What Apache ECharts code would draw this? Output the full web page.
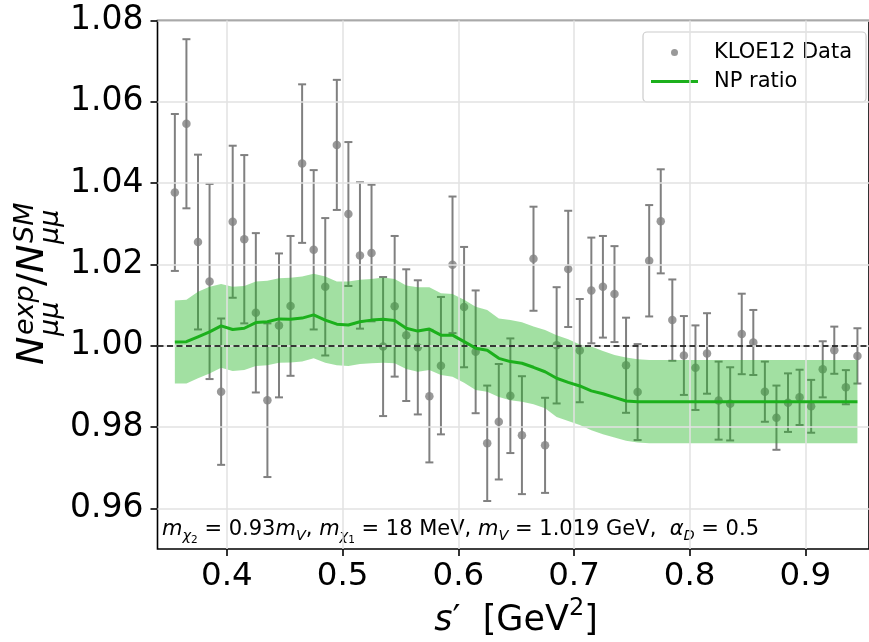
<!DOCTYPE html>
<html>
<head>
<meta charset="utf-8">
<script src="https://cdn.jsdelivr.net/npm/echarts@6/dist/echarts.min.js"></script>
<style>
  html, body { margin: 0; padding: 0; background: #fff; }
  #chart { width: 869px; height: 642px; }
</style>
</head>
<body>
<div id="chart"></div>
<script>
// ---- data ----
const X = [0.355, 0.365, 0.375, 0.385, 0.395, 0.405, 0.415, 0.425, 0.435, 0.445,
           0.455, 0.465, 0.475, 0.485, 0.495, 0.505, 0.515, 0.525, 0.535, 0.545,
           0.555, 0.565, 0.575, 0.585, 0.595, 0.605, 0.615, 0.625, 0.635, 0.645,
           0.655, 0.665, 0.675, 0.685, 0.695, 0.705, 0.715, 0.725, 0.735, 0.745,
           0.755, 0.765, 0.775, 0.785, 0.795, 0.805, 0.815, 0.825, 0.835, 0.845,
           0.855, 0.865, 0.875, 0.885, 0.895, 0.905, 0.915, 0.925, 0.935, 0.945];
const DATA_Y = [1.0377, 1.0546, 1.0255, 1.0158, 0.9887, 1.0305, 1.0262, 1.0081, 0.9866, 1.0050,
                1.0098, 1.0448, 1.0236, 1.0145, 1.0494, 1.0324, 1.0222, 1.0228, 0.9998, 1.0097,
                1.0026, 0.9996, 0.9876, 0.9951, 1.0199, 1.0095, 0.9985, 0.9760, 0.9813, 0.9877,
                0.9780, 1.0214, 0.9755, 1.0001, 1.0189, 0.9988, 1.0136, 1.0145, 1.0127, 0.9952,
                0.9886, 1.0209, 1.0306, 1.0063, 0.9976, 0.9946, 0.9981, 0.9865, 0.9857, 1.0029,
                1.0008, 0.9887, 0.9823, 0.9860, 0.9873, 0.9851, 0.9942, 0.9989, 0.9898, 0.9975];
const DATA_ERR = [0.0193, 0.0208, 0.0215, 0.0240, 0.0180, 0.0187, 0.0207, 0.0196, 0.0189, 0.0177,
                  0.0172, 0.0195, 0.0196, 0.0169, 0.0160, 0.0177, 0.0180, 0.0168, 0.0171, 0.0173,
                  0.0162, 0.0165, 0.0163, 0.0169, 0.0168, 0.0148, 0.0151, 0.0142, 0.0142, 0.0141,
                  0.0145, 0.0128, 0.0117, 0.0143, 0.0143, 0.0127, 0.0130, 0.0125, 0.0118, 0.0117,
                  0.0118, 0.0137, 0.0128, 0.0100, 0.0097, 0.0104, 0.0099, 0.0096, 0.0090, 0.0099,
                  0.0080, 0.0074, 0.0079, 0.0072, 0.0068, 0.0065, 0.0069, 0.0058, 0.0042, 0.0068];
const NP_RATIO = [1.0009, 1.0010, 1.0022, 1.0034, 1.0049, 1.0040, 1.0043, 1.0057, 1.0059, 1.0066,
                  1.0065, 1.0068, 1.0076, 1.0063, 1.0053, 1.0051, 1.0059, 1.0063, 1.0065, 1.0062,
                  1.0043, 1.0036, 1.0041, 1.0026, 1.0026, 1.0010, 0.9994, 0.9989, 0.9969, 0.9961,
                  0.9957, 0.9947, 0.9936, 0.9920, 0.9910, 0.9901, 0.9889, 0.9882, 0.9873, 0.9864,
                  0.9862, 0.9862, 0.9862, 0.9862, 0.9862, 0.9862, 0.9862, 0.9862, 0.9862, 0.9862,
                  0.9862, 0.9862, 0.9862, 0.9862, 0.9862, 0.9862, 0.9862, 0.9862, 0.9862, 0.9862];
const NP_UPPER = [1.0111, 1.0113, 1.0133, 1.0145, 1.0152, 1.0145, 1.0147, 1.0158, 1.0160, 1.0166,
                  1.0167, 1.0170, 1.0177, 1.0170, 1.0158, 1.0158, 1.0162, 1.0164, 1.0168, 1.0164,
                  1.0148, 1.0144, 1.0144, 1.0129, 1.0127, 1.0113, 1.0096, 1.0088, 1.0067, 1.0063,
                  1.0058, 1.0047, 1.0039, 1.0026, 1.0016, 1.0003, 0.9998, 0.9987, 0.9977, 0.9971,
                  0.9967, 0.9965, 0.9965, 0.9965, 0.9965, 0.9965, 0.9965, 0.9965, 0.9965, 0.9965,
                  0.9965, 0.9965, 0.9965, 0.9965, 0.9965, 0.9965, 0.9965, 0.9965, 0.9965, 0.9965];
const NP_LOWER = [0.9907, 0.9907, 0.9920, 0.9932, 0.9946, 0.9938, 0.9940, 0.9950, 0.9952, 0.9958,
                  0.9959, 0.9961, 0.9969, 0.9958, 0.9952, 0.9950, 0.9955, 0.9957, 0.9958, 0.9957,
                  0.9943, 0.9936, 0.9940, 0.9928, 0.9924, 0.9909, 0.9891, 0.9887, 0.9874, 0.9866,
                  0.9862, 0.9856, 0.9846, 0.9825, 0.9815, 0.9805, 0.9792, 0.9782, 0.9774, 0.9766,
                  0.9762, 0.9760, 0.9760, 0.9760, 0.9760, 0.9760, 0.9760, 0.9760, 0.9760, 0.9760,
                  0.9760, 0.9760, 0.9760, 0.9760, 0.9760, 0.9760, 0.9760, 0.9760, 0.9760, 0.9760];
const X_TICKS = [0.4, 0.5, 0.6, 0.7, 0.8, 0.9];
const Y_TICKS = [0.96, 0.98, 1.00, 1.02, 1.04, 1.06, 1.08];
const SM_REF = 0.998;

// ---- chart ----
const FONT = 'DejaVu Sans';
const chart = echarts.init(document.getElementById('chart'), null, { renderer: 'canvas' });

const pointData = X.map((x, i) => [x, DATA_Y[i], DATA_ERR[i]]);
const lineData = X.map((x, i) => [x, NP_RATIO[i]]);

const option = {
  animation: false,
  backgroundColor: '#fff',
  grid: {
    left: 157.5, top: 20.5, width: 715, height: 528.5,
    show: true, borderColor: '#000', borderWidth: 1.6, backgroundColor: 'transparent'
  },
  xAxis: {
    type: 'value', min: 0.34, max: 0.955,
    axisLine: { show: false },
    axisTick: { show: true, customValues: X_TICKS, length: 7, lineStyle: { color: '#000', width: 1.6 } },
    axisLabel: {
      customValues: X_TICKS, margin: 11, color: '#000', fontSize: 32.5, fontFamily: FONT,
      formatter: v => v.toFixed(1)
    },
    splitLine: { show: false }
  },
  yAxis: {
    type: 'value', min: 0.95, max: 1.08,
    axisLine: { show: false },
    axisTick: { show: true, customValues: Y_TICKS, length: 7, lineStyle: { color: '#000', width: 1.6 } },
    axisLabel: {
      customValues: Y_TICKS, margin: 14, color: '#000', fontSize: 33, fontFamily: FONT,
      formatter: v => v.toFixed(2)
    },
    splitLine: { show: false }
  },
  legend: {
    orient: 'vertical', left: 643, top: 32,
    data: [
      { name: 'KLOE12 Data', icon: 'circle' },
      { name: 'NP ratio', icon: 'path://M0,0h47v3h-47z' }
    ],
    itemWidth: 47, itemHeight: 7, itemGap: 8,
    padding: [10, 14, 10, 8],
    borderColor: '#cccccc', borderWidth: 1.2, borderRadius: 4,
    backgroundColor: 'rgba(255,255,255,0.85)',
    textStyle: { fontSize: 21, fontFamily: FONT, color: '#000', padding: [0, 0, 0, 11] }
  },
  series: [
    { // grid lines at tick values
      type: 'line', name: 'grid', data: [], z: 0, silent: true,
      markLine: {
        silent: true, symbol: ['none', 'none'], label: { show: false }, animation: false,
        lineStyle: { color: '#e2e2e2', width: 1.5, type: 'solid' },
        emphasis: { disabled: true },
        data: [...X_TICKS.map(v => ({ xAxis: v })), ...Y_TICKS.map(v => ({ yAxis: v }))]
      }
    },
    { // error bars
      type: 'custom', name: 'errbars', z: 2, silent: true,
      data: pointData, encode: { x: 0, y: 1 },
      renderItem: (params, api) => {
        const x = api.value(0), y = api.value(1), e = api.value(2);
        const top = api.coord([x, y + e]);
        const bot = api.coord([x, y - e]);
        const cw = 4;
        const style = { stroke: '#808080', lineWidth: 2 };
        return {
          type: 'group', children: [
            { type: 'line', shape: { x1: top[0], y1: top[1], x2: bot[0], y2: bot[1] }, style },
            { type: 'line', shape: { x1: top[0] - cw, y1: top[1], x2: top[0] + cw, y2: top[1] }, style },
            { type: 'line', shape: { x1: bot[0] - cw, y1: bot[1], x2: bot[0] + cw, y2: bot[1] }, style }
          ]
        };
      }
    },
    {
      type: 'scatter', name: 'KLOE12 Data', z: 3,
      data: pointData.map(p => [p[0], p[1]]),
      symbol: 'circle', symbolSize: 8.5,
      itemStyle: { color: '#808080' }
    },
    { // NP uncertainty band
      type: 'custom', name: 'band', z: 4, silent: true,
      data: [[X[0], NP_UPPER[0]]], encode: { x: 0, y: 1 },
      renderItem: (params, api) => {
        const pts = [];
        for (let i = 0; i < X.length; i++) pts.push(api.coord([X[i], NP_UPPER[i]]));
        for (let i = X.length - 1; i >= 0; i--) pts.push(api.coord([X[i], NP_LOWER[i]]));
        return { type: 'polygon', shape: { points: pts }, style: { fill: 'rgba(34,180,34,0.42)' } };
      }
    },
    {
      type: 'line', name: 'NP ratio', z: 5,
      data: lineData, symbol: 'none', showSymbol: false,
      lineStyle: { color: '#1cb01c', width: 3 },
      itemStyle: { color: '#1cb01c' }
    },
    { // SM reference dashed line
      type: 'line', name: 'ref', data: [], z: 6, silent: true,
      markLine: {
        silent: true, symbol: ['none', 'none'], label: { show: false }, animation: false,
        lineStyle: { color: '#000', width: 1.6, type: [6, 3.5] },
        emphasis: { disabled: true },
        data: [{ yAxis: SM_REF }]
      }
    }
  ],
  graphic: [
    { // y-axis title N^exp_mumu / N^SM_mumu (rotated)
      type: 'group', x: 46, y: 365, rotation: Math.PI / 2, silent: true,
      children: [
        { type: 'text', x: 0, y: -13, style: { text: 'N', fontSize: 38, fontStyle: 'italic', fontFamily: FONT, fill: '#000', align: 'left', verticalAlign: 'middle' } },
        { type: 'text', x: 30, y: -20, style: { text: 'exp', fontSize: 27, fontStyle: 'italic', fontFamily: FONT, fill: '#000', align: 'left', verticalAlign: 'middle' } },
        { type: 'text', x: 29, y: 5, style: { text: 'μμ', fontSize: 27, fontStyle: 'italic', fontFamily: FONT, fill: '#000', align: 'left', verticalAlign: 'middle' } },
        { type: 'text', x: 79, y: -13, style: { text: '/', fontSize: 38, fontFamily: FONT, fill: '#000', align: 'left', verticalAlign: 'middle' } },
        { type: 'text', x: 92, y: -13, style: { text: 'N', fontSize: 38, fontStyle: 'italic', fontFamily: FONT, fill: '#000', align: 'left', verticalAlign: 'middle' } },
        { type: 'text', x: 122, y: -20, style: { text: 'SM', fontSize: 27, fontStyle: 'italic', fontFamily: FONT, fill: '#000', align: 'left', verticalAlign: 'middle' } },
        { type: 'text', x: 121, y: 5, style: { text: 'μμ', fontSize: 27, fontStyle: 'italic', fontFamily: FONT, fill: '#000', align: 'left', verticalAlign: 'middle' } }
      ]
    },
    { // x-axis title
      type: 'text', x: 516, y: 621, silent: true,
      style: {
        text: '{i|s}{n|′  [GeV}{sup|2}{n|]}',
        align: 'center', verticalAlign: 'middle',
        rich: {
          n: { fontSize: 35, fontFamily: FONT, color: '#000', verticalAlign: 'middle', lineHeight: 38 },
          i: { fontSize: 35, fontFamily: FONT, fontStyle: 'italic', color: '#000', verticalAlign: 'middle', lineHeight: 38 },
          sup: { fontSize: 24, fontFamily: FONT, color: '#000', verticalAlign: 'middle', lineHeight: 24, padding: [0, 0, 24, 0] }
        }
      }
    },
    { // parameter annotation
      type: 'text', x: 162, y: 530, silent: true,
      style: {
        text: '{i|m}{s|χ}{ss|2}{n| = 0.93}{i|m}{s|V}{n|, }{i|m}{s|χ}{ss|1}{n| = 18 MeV, }{i|m}{s|V}{n| = 1.019 GeV,  }{i|α}{s|D}{n| = 0.5}',
        align: 'left', verticalAlign: 'middle',
        rich: {
          n: { fontSize: 21, fontFamily: FONT, color: '#000', verticalAlign: 'middle', lineHeight: 26 },
          i: { fontSize: 21, fontFamily: FONT, fontStyle: 'italic', color: '#000', verticalAlign: 'middle', lineHeight: 26 },
          s: { fontSize: 14.5, fontFamily: FONT, fontStyle: 'italic', color: '#000', verticalAlign: 'middle', lineHeight: 14.5, padding: [12, 0, 0, 0] },
          ss: { fontSize: 10.5, fontFamily: FONT, color: '#000', verticalAlign: 'middle', lineHeight: 10.5, padding: [21, 0, 0, 0] }
        }
      }
    }
  ]
};
chart.setOption(option);
</script>
</body>
</html>
